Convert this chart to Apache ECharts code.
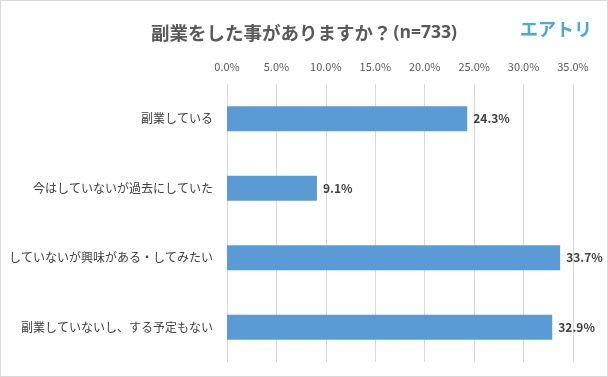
<!DOCTYPE html>
<html>
<head>
<meta charset="utf-8">
<script src="https://cdn.jsdelivr.net/npm/echarts@6/dist/echarts.min.js"></script>
<style>
  html, body {margin: 0; padding: 0; background: #fff;}
  #chart {width: 606px; height: 375px; border: 1px solid #d9d9d9;}
</style>
</head>
<body>
<div id="chart"></div>
<script>
// 副業アンケート (n=733)
const categories = [
  "副業している",
  "今はしていないが過去にしていた",
  "していないが興味がある・してみたい",
  "副業していないし、する予定もない",
];
const percents = [24.3, 9.1, 33.7, 32.9];
const axisMax = 35;
const axisStep = 5;

const font = "'Noto Sans CJK JP', 'Noto Sans', sans-serif";
const chart = echarts.init(document.getElementById("chart"));

chart.setOption({
  animation: false,
  textStyle: {fontFamily: font},
  title: {
    text: "{main|副業をした事がありますか？}{n|(n=733)}",
    left: 145,
    top: 17,
    textStyle: {
      rich: {
        main: {fontSize: 18.5, fontWeight: "bold", color: "#595959", fontFamily: font},
        n: {fontSize: 17.5, fontWeight: "bold", color: "#595959", fontFamily: "'Open Sans', sans-serif", padding: [1, 0, 0, 2]},
      },
    },
  },
  graphic: [{
    type: "text",
    left: 519,
    top: 19,
    style: {text: "エアトリ", fontSize: 18, fontWeight: "bold", fill: "#4ea6dc", fontFamily: font},
  }],
  grid: {left: 226, right: 34, top: 83, bottom: 14},
  xAxis: {
    type: "value",
    position: "top",
    min: 0,
    max: axisMax,
    interval: axisStep,
    axisLine: {show: false},
    axisTick: {show: false},
    axisLabel: {
      color: "#595959",
      fontSize: 11,
      margin: 12,
      formatter: (v) => v.toFixed(1) + "%",
    },
    splitLine: {lineStyle: {color: "#d9d9d9"}},
  },
  yAxis: {
    type: "category",
    inverse: true,
    data: categories,
    axisLine: {show: false},
    axisTick: {show: false},
    axisLabel: {color: "#404040", fontSize: 12, margin: 14},
  },
  series: [{
    type: "bar",
    data: percents,
    barWidth: 25,
    itemStyle: {color: "#5b9bd5"},
    label: {
      show: true,
      position: "right",
      distance: 6,
      color: "#404040",
      fontSize: 12,
      fontWeight: "bold",
      formatter: (p) => p.value.toFixed(1) + "%",
    },
  }],
});
</script>
</body>
</html>
